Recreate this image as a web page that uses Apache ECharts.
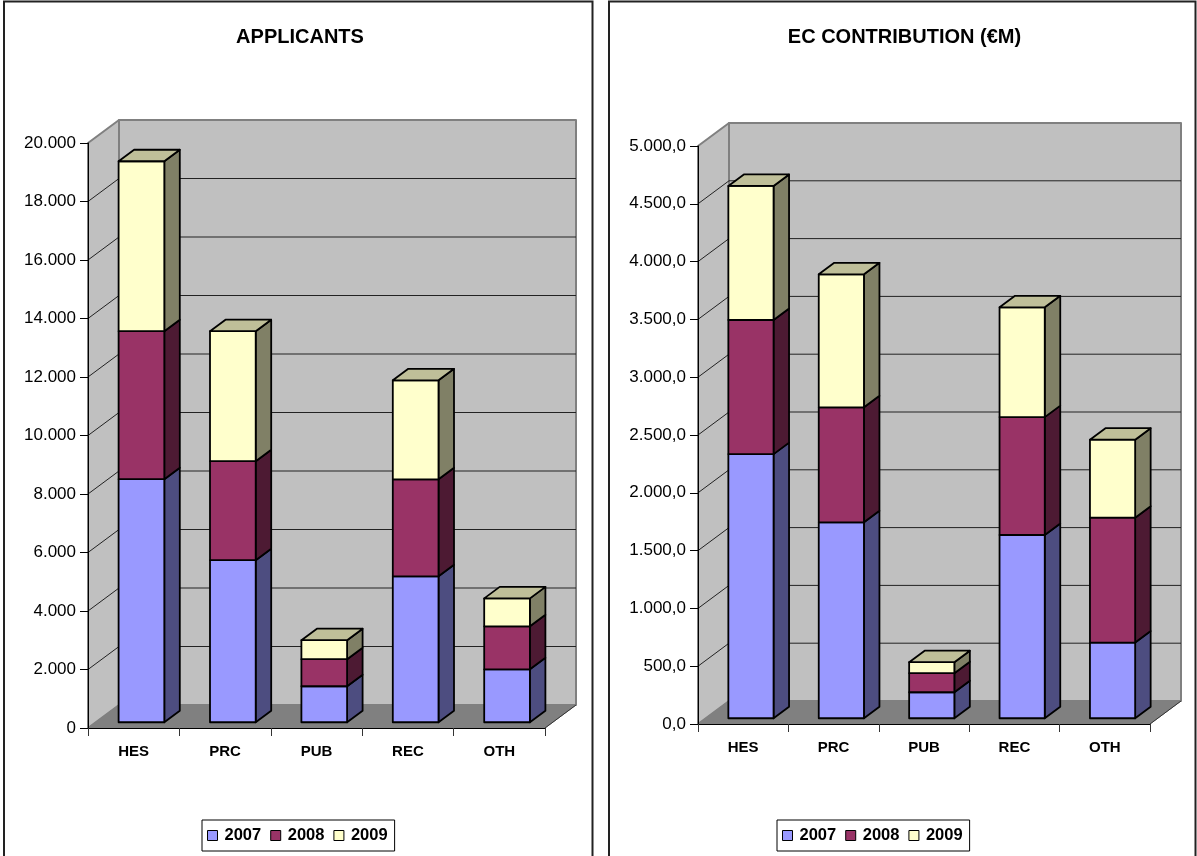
<!DOCTYPE html>
<html>
<head>
<meta charset="utf-8">
<style>
  html, body { margin: 0; padding: 0; background: #fff; }
  #chart { width: 1197px; height: 856px; }
</style>
<script src="https://cdn.jsdelivr.net/npm/echarts@6/dist/echarts.min.js"></script>
</head>
<body>
<div id="chart"></div>
<script>
const categories = ['HES', 'PRC', 'PUB', 'REC', 'OTH'];
const years = ['2007', '2008', '2009'];

const applicants2007 = [8310, 5540, 1230, 4990, 1810];
const applicants2008 = [5060, 3385, 925, 3315, 1470];
const applicants2009 = [5810, 4445, 650, 3385, 955];
const applicantTicks = [0, 2000, 4000, 6000, 8000, 10000, 12000, 14000, 16000, 18000, 20000];

const contribution2007 = [2285, 1695, 225, 1585, 655];
const contribution2008 = [1160, 995, 165, 1020, 1080];
const contribution2009 = [1160, 1150, 95, 950, 675];
const contributionTicks = [0, 500, 1000, 1500, 2000, 2500, 3000, 3500, 4000, 4500, 5000];

const FONT = '"Liberation Sans", Arial, sans-serif';
const DEPTH_X = 31;
const DEPTH_Y = 23;

const faceColors = [
  { front: '#9999FF', side: '#4D4D80', top: '#7A7ACC' },
  { front: '#993366', side: '#4D1A33', top: '#7A2952' },
  { front: '#FFFFCC', side: '#808066', top: '#BFBF99' },
];

function poly(points, fill, stroke, lineWidth) {
  return {
    type: 'polygon',
    shape: { points: points },
    style: { fill: fill, stroke: stroke, lineWidth: lineWidth, lineJoin: 'round' },
  };
}

function line(x1, y1, x2, y2, color, lineWidth) {
  return {
    type: 'line',
    shape: { x1: x1, y1: y1, x2: x2, y2: y2 },
    style: { stroke: color, lineWidth: lineWidth },
  };
}

// side wall, back wall and floor, one gridline per tick
function renderWalls(params, api) {
  const g = params.coordSys;
  const value = api.value(0);
  const y = api.coord([0, value])[1];
  const x0 = g.x;
  const x1 = g.x + g.width;
  const yTop = g.y;
  const yBottom = g.y + g.height;
  const children = [];
  if (params.dataIndex === 0) {
    children.push(poly([[x0, yBottom], [x0 + DEPTH_X, yBottom - DEPTH_Y], [x0 + DEPTH_X, yTop - DEPTH_Y], [x0, yTop]], '#C0C0C0', '#808080', 2));
    children.push(poly([[x0 + DEPTH_X, yBottom - DEPTH_Y], [x1 + DEPTH_X, yBottom - DEPTH_Y], [x1 + DEPTH_X, yTop - DEPTH_Y], [x0 + DEPTH_X, yTop - DEPTH_Y]], '#C0C0C0', '#808080', 2));
    children.push(poly([[x0, yBottom], [x1, yBottom], [x1 + DEPTH_X, yBottom - DEPTH_Y], [x0 + DEPTH_X, yBottom - DEPTH_Y]], '#808080', '#808080', 1));
    children.push(line(x1, yBottom, x1 + DEPTH_X, yBottom - DEPTH_Y, '#333333', 1));
  } else if (y > yTop + 1) {
    children.push(line(x0, y, x0 + DEPTH_X, y - DEPTH_Y, '#222222', 1));
    children.push(line(x0 + DEPTH_X, y - DEPTH_Y, x1 + DEPTH_X, y - DEPTH_Y, '#222222', 1));
  }
  return { type: 'group', children: children };
}

function renderBar(params, api) {
  const colors = faceColors[params.seriesIndex % 4 - 1];
  const isLast = params.seriesIndex % 4 === 3;
  const step = api.size([1, 0])[0];
  const center = api.coord([api.value(0), 0])[0];
  const w = step / 2;
  const dx = DEPTH_X / 2;
  const dy = DEPTH_Y / 2;
  const left = center - w / 2 + DEPTH_X / 4;
  const right = left + w;
  const bottom = api.coord([0, api.value(1)])[1] - DEPTH_Y / 4;
  const top = api.coord([0, api.value(2)])[1] - DEPTH_Y / 4;
  const children = [
    poly([[right, bottom], [right + dx, bottom - dy], [right + dx, top - dy], [right, top]], colors.side, '#000', 1.8),
    poly([[left, bottom], [right, bottom], [right, top], [left, top]], colors.front, '#000', 1.8),
  ];
  if (isLast) {
    children.push(poly([[left, top], [right, top], [right + dx, top - dy], [left + dx, top - dy]], colors.top, '#000', 1.8));
  }
  return { type: 'group', children: children };
}

function stackRows(values, below) {
  return values.map((v, i) => [i, below[i], below[i] + v]);
}

function buildSeries(gridIndex, ticks, stacks) {
  const list = [{
    type: 'custom',
    xAxisIndex: gridIndex,
    yAxisIndex: gridIndex,
    coordinateSystem: 'cartesian2d',
    clip: false,
    silent: true,
    z: 1,
    renderItem: renderWalls,
    data: ticks.map((t) => [t]),
    encode: { y: 0 },
  }];
  let below = categories.map(() => 0);
  stacks.forEach((values, i) => {
    const rows = stackRows(values, below);
    below = rows.map((r) => r[2]);
    list.push({
      name: years[i],
      type: 'custom',
      xAxisIndex: gridIndex,
      yAxisIndex: gridIndex,
      coordinateSystem: 'cartesian2d',
      clip: false,
      silent: true,
      z: 3 + i,
      itemStyle: { color: faceColors[i].front },
      renderItem: renderBar,
      data: rows,
      encode: { x: 0, y: [1, 2] },
    });
  });
  return list;
}

function xAxis(gridIndex) {
  return {
    type: 'category',
    gridIndex: gridIndex,
    data: categories,
    z: 8,
    axisLine: { show: true, onZero: false, lineStyle: { color: '#000', width: 1 } },
    axisTick: { show: true, alignWithLabel: false, length: 8, lineStyle: { color: '#333', width: 1 } },
    axisLabel: { color: '#000', fontFamily: FONT, fontWeight: 'bold', fontSize: 15, margin: 16 },
    splitLine: { show: false },
  };
}

function yAxis(gridIndex, max, interval, formatter) {
  return {
    type: 'value',
    gridIndex: gridIndex,
    min: 0,
    max: max,
    interval: interval,
    z: 8,
    axisLine: { show: true, lineStyle: { color: '#000', width: 1 } },
    axisTick: { show: true, length: 8, lineStyle: { color: '#000', width: 1 } },
    axisLabel: { color: '#000', fontFamily: FONT, fontSize: 17, margin: 12, formatter: formatter },
    splitLine: { show: false },
  };
}

function thousands(v) {
  return String(Math.floor(v)).replace(/\B(?=(\d{3})+$)/g, '.');
}

function legend(left) {
  return {
    left: left,
    top: 820,
    data: years.map((name) => ({ name: name, icon: 'rect' })),
    orient: 'horizontal',
    selectedMode: false,
    backgroundColor: '#fff',
    borderColor: '#000',
    borderWidth: 1,
    padding: [7, 7, 7, 5],
    itemGap: 9,
    itemWidth: 10,
    itemHeight: 10,
    itemStyle: { borderColor: '#000', borderWidth: 1 },
    textStyle: { color: '#000', fontFamily: FONT, fontWeight: 'bold', fontSize: 16.5, padding: [0, 0, 0, 2] },
  };
}

function panel(x, width) {
  return {
    type: 'rect',
    silent: true,
    z: -10,
    shape: { x: x, y: 1.5, width: width, height: 870 },
    style: { fill: '#fff', stroke: '#222', lineWidth: 2 },
  };
}

function title(text, center) {
  return {
    text: text,
    left: center,
    top: 22,
    textAlign: 'center',
    textStyle: { color: '#000', fontFamily: FONT, fontWeight: 'bold', fontSize: 20 },
  };
}

const chart = echarts.init(document.getElementById('chart'), null, { renderer: 'canvas' });
chart.setOption({
  animation: false,
  backgroundColor: '#fff',
  graphic: [panel(4, 588.5), panel(609, 586.5)],
  title: [title('APPLICANTS', 295), title('EC CONTRIBUTION (€M)', 899.5)],
  legend: [legend(202), legend(777)],
  grid: [
    { left: 88, top: 143, width: 457, height: 585 },
    { left: 698, top: 146, width: 452, height: 578 },
  ],
  xAxis: [xAxis(0), xAxis(1)],
  yAxis: [
    yAxis(0, 20000, 2000, (v) => thousands(v)),
    yAxis(1, 5000, 500, (v) => thousands(v) + ',0'),
  ],
  series: [
    ...buildSeries(0, applicantTicks, [applicants2007, applicants2008, applicants2009]),
    ...buildSeries(1, contributionTicks, [contribution2007, contribution2008, contribution2009]),
  ],
});
</script>
</body>
</html>
